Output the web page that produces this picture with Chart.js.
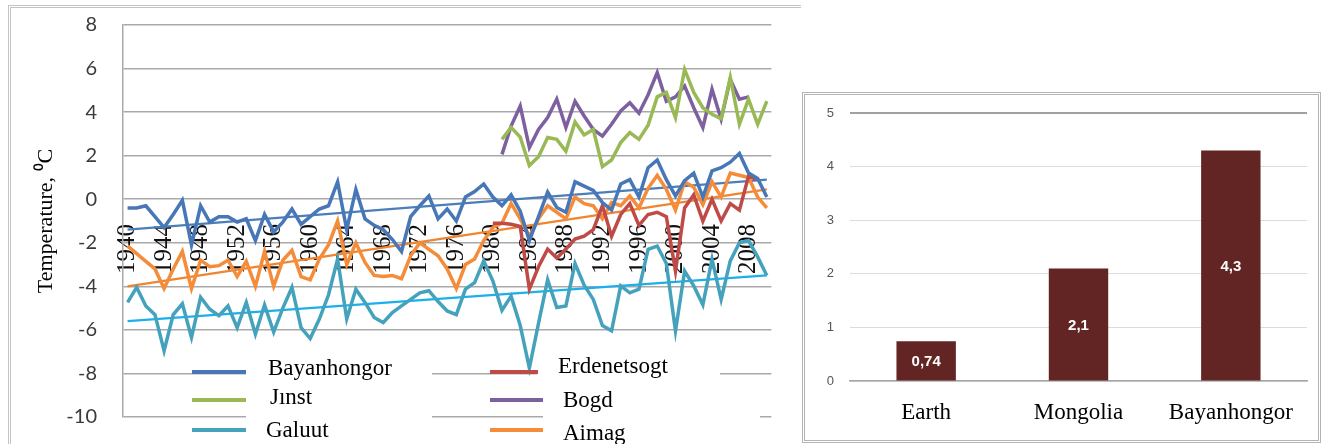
<!DOCTYPE html>
<html>
<head>
<meta charset="utf-8">
<script src="https://cdn.jsdelivr.net/npm/chart.js@4.4.1/dist/chart.umd.min.js"></script>
<style>
    html, body { margin: 0; padding: 0; background: #fff; }
    body { width: 1328px; height: 444px; position: relative; overflow: hidden; }
    #leftFrame { position: absolute; left: 8px; top: 5px; width: 793px; height: 460px; border: 3px double #c4c4c4; border-right: none; box-sizing: border-box; }
    #rightFrame { position: absolute; left: 802px; top: 92px; width: 519px; height: 351px; border: 3px double #b4b4b4; box-sizing: border-box; }
    #lineChart { position: absolute; left: 0; top: 0; }
    #barChart { position: absolute; left: 800px; top: 80px; }
    .cover { position: absolute; background: #fff; }
    .lg-line { position: absolute; height: 4px; }
    .lg-text { position: absolute; font-family: "Liberation Serif", "Times New Roman", serif; font-size: 23px; line-height: 23px; color: #000; white-space: nowrap; }
</style>
</head>
<body>
<div id="leftFrame"></div>
<div id="rightFrame"></div>
<canvas id="lineChart" width="800" height="444"></canvas>
<canvas id="barChart" width="528" height="364"></canvas>
<div id="legend"></div>
<script>
// years 1940..2010
var years = [];
for (var yr = 1940; yr <= 2010; yr++) years.push(String(yr));

var bayanhongor = [-0.4, -0.4, -0.3, -0.8, -1.3, -0.7, -0.05, -2.1, -0.3, -1.05,
    -0.8, -0.8, -1.05, -0.9, -1.9, -0.7, -1.5, -1.05, -0.45, -1.15,
    -0.8, -0.45, -0.3, 0.8, -1.4, 0.45, -0.9, -1.2, -1.4, -1.85,
    -2.4, -0.8, -0.3, 0.15, -0.9, -0.45, -1.0, 0.1, 0.35, 0.7,
    0.1, -0.3, 0.2, -0.55, -1.9, -0.8, 0.33, -0.38, -0.6, 0.8,
    0.6, 0.4, -0.15, -0.5, 0.7, 0.9, 0.1, 1.45, 1.8, 0.9,
    0.15, 0.85, 1.2, 0.1, 1.3, 1.45, 1.7, 2.1, 1.2, 0.95,
    0.1];
var erdenetsogt = [null, null, null, null, null, null, null, null, null, null,
    null, null, null, null, null, null, null, null, null, null,
    null, null, null, null, null, null, null, null, null, null,
    null, null, null, null, null, null, null, null, null, null,
    -1.1, -1.1, -1.15, -1.25, -4.13, -3.1, -2.29, -2.7, -2.29, -1.83,
    -1.7, -1.4, -0.3, -1.7, -0.7, -0.2, -1.2, -0.7, -0.6, -0.8,
    -3.3, -0.4, 0.2, -1.0, 0.0, -1.0, -0.2, -0.5, 1.05, 0.9,
    null];
var jinst = [null, null, null, null, null, null, null, null, null, null,
    null, null, null, null, null, null, null, null, null, null,
    null, null, null, null, null, null, null, null, null, null,
    null, null, null, null, null, null, null, null, null, null,
    null, 2.75, 3.3, 2.85, 1.55, 1.95, 2.83, 2.75, 2.2, 3.55,
    2.95, 3.2, 1.5, 1.8, 2.6, 3.06, 2.75, 3.4, 4.7, 4.9,
    3.75, 5.96, 4.9, 4.2, 3.9, 3.7, 5.6, 3.44, 4.6, 3.44,
    4.5];
var bogd = [null, null, null, null, null, null, null, null, null, null,
    null, null, null, null, null, null, null, null, null, null,
    null, null, null, null, null, null, null, null, null, null,
    null, null, null, null, null, null, null, null, null, null,
    null, 2.06, 3.36, 4.28, 2.37, 3.2, 3.75, 4.6, 3.29, 4.5,
    3.82, 3.2, 2.9, 3.44, 4.05, 4.43, 3.95, 4.8, 5.81, 4.5,
    4.7, 5.2, 4.2, 3.29, 5.05, 3.67, 5.5, 4.59, 4.7, null,
    null];
var galuut = [-4.74, -4.05, -4.9, -5.3, -6.96, -5.3, -4.8, -6.35, -4.5, -5.05,
    -5.35, -4.9, -5.9, -4.74, -6.2, -4.85, -6.1, -5.0, -4.05, -5.9,
    -6.4, -5.5, -4.4, -2.75, -5.5, -4.13, -4.74, -5.43, -5.66, -5.2,
    -4.9, -4.6, -4.3, -4.2, -4.7, -5.13, -5.3, -4.13, -3.83, -2.83,
    -3.75, -5.1, -4.45, -5.8, -7.75, -5.7, -3.7, -4.97, -4.9, -2.95,
    -3.95, -4.6, -5.8, -6.04, -3.98, -4.3, -4.13, -2.3, -2.15, -2.95,
    -6.05, -3.3, -3.98, -4.85, -2.75, -4.6, -2.83, -2.0, -1.9, -2.65,
    -3.5];
var aimag = [-2.14, -2.5, -2.85, -3.2, -4.1, -3.2, -2.4, -4.1, -2.8, -3.1,
    -3.05, -2.8, -3.55, -2.85, -4.0, -2.4, -4.0, -2.8, -2.35, -3.55,
    -3.7, -2.75, -2.1, -1.0, -3.0, -2.0, -2.9, -3.5, -3.55, -3.5,
    -3.65, -2.6, -2.0, -2.3, -2.6, -3.2, -4.1, -3.0, -2.75, -1.9,
    -1.3, -1.1, -0.2, -0.9, -1.7, -0.9, -0.3, -0.6, -0.9, 0.1,
    -0.2, -0.3, -0.9, -0.15, -0.3, 0.15, -0.4, 0.5, 1.1, 0.45,
    -0.5, 0.8, 0.55, -0.25, 0.8, 0.1, 1.2, 1.1, 1.0, 0.1,
    -0.4];

// linear trends, start and end year
var trendYears = ['1940', '2010'];
var bayanTrend = [-1.4, 0.9];
var aimagTrend = [-4.0, 0.45];
var galuutTrend = [-5.6, -3.5];

var yTicks = [-10, -8, -6, -4, -2, 0, 2, 4, 6, 8];

// right chart
var regions = ['Earth', 'Mongolia', 'Bayanhongor'];
var warming = [0.74, 2.1, 4.3];
var warmingLabels = ['0,74', '2,1', '4,3'];

var series = [
    { name: 'Bayanhongor', data: bayanhongor, color: '#4877b8' },
    { name: 'Erdenetsogt', data: erdenetsogt, color: '#be4b48' },
    { name: 'J\u0131nst', data: jinst, color: '#98b954' },
    { name: 'Bogd', data: bogd, color: '#7d60a0' },
    { name: 'Galuut', data: galuut, color: '#45a2bc' },
    { name: 'Aimag', data: aimag, color: '#f58c3a' }
];
var trends = [
    { data: bayanTrend, color: '#4a7ebb' },
    { data: aimagTrend, color: '#f08530' },
    { data: galuutTrend, color: '#1ab0ec' }
];

function trendPoints(vals) {
    return trendYears.map(function (t, i) { return { x: t, y: vals[i] }; });
}

function loadLineChart() {
    var ctx = document.getElementById('lineChart').getContext('2d');
    var datasets = series.map(function (s) {
        return { label: s.name, data: s.data, borderColor: s.color, backgroundColor: s.color, borderWidth: 3.5, pointRadius: 0, tension: 0, fill: false };
    });
    trends.forEach(function (t) {
        datasets.push({ label: '', data: trendPoints(t.data), borderColor: t.color, borderWidth: 2.2, pointRadius: 0, fill: false });
    });
    new Chart(ctx, {
        type: 'line',
        data: { labels: years, datasets: datasets },
        options: {
            responsive: false,
            animation: false,
            layout: { padding: { left: 0, top: 25, right: 28, bottom: 27 } },
            plugins: { legend: { display: false }, tooltip: { enabled: false } },
            scales: {
                x: {
                    type: 'category',
                    offset: true,
                    position: { y: -1 },
                    grid: { display: false, drawTicks: false },
                    border: { display: false },
                    ticks: {
                        autoSkip: false, minRotation: 90, maxRotation: 90, padding: 3,
                        color: '#111',
                        font: { family: 'Liberation Serif', size: 25 },
                        callback: function (v, i) {
                            return (Number(years[i]) - 1940) % 4 === 0 ? years[i] : '';
                        }
                    }
                },
                y: {
                    min: -10, max: 8,
                    afterBuildTicks: function (s) { s.ticks = yTicks.map(function (v) { return { value: v }; }); },
                    afterFit: function (s) { s.width = 123; },
                    grid: { color: '#a9a9a9', lineWidth: 1.5, drawTicks: true, tickLength: 26, tickColor: 'rgba(0,0,0,0)' },
                    border: { color: '#a9a9a9', width: 1.5 },
                    ticks: { padding: 0, color: '#3a3a3a', font: { family: 'Lato', size: 20 } },
                    title: {
                        display: true, text: 'Temperature, \u2070C', color: '#000',
                        font: { family: 'Liberation Serif', size: 22 },
                        padding: { top: 33, bottom: 0 }
                    }
                }
            }
        }
    });
}

function buildLegend() {
    var box = document.getElementById('legend');
    var covers = [[246, 356, 186, 88], [537, 356, 183, 39], [543, 395, 217, 49]];
    covers.forEach(function (c) {
        var d = document.createElement('div');
        d.className = 'cover';
        d.style.left = c[0] + 'px'; d.style.top = c[1] + 'px';
        d.style.width = c[2] + 'px'; d.style.height = c[3] + 'px';
        box.appendChild(d);
    });
    // order as in the picture: two columns, three rows
    var slots = [
        { line: [192, 246, 372], text: [268, 356] },
        { line: [490, 538, 372], text: [558, 354] },
        { line: [192, 246, 400], text: [270, 385] },
        { line: [490, 543, 400], text: [563, 388] },
        { line: [192, 246, 430], text: [266, 418] },
        { line: [490, 543, 430], text: [563, 421] }
    ];
    series.forEach(function (s, i) {
        var sl = slots[i];
        var ln = document.createElement('div');
        ln.className = 'lg-line';
        ln.style.left = sl.line[0] + 'px';
        ln.style.width = (sl.line[1] - sl.line[0]) + 'px';
        ln.style.top = (sl.line[2] - 2) + 'px';
        ln.style.background = s.color;
        box.appendChild(ln);
        var tx = document.createElement('div');
        tx.className = 'lg-text';
        tx.style.left = sl.text[0] + 'px';
        tx.style.top = sl.text[1] + 'px';
        tx.textContent = s.name;
        box.appendChild(tx);
    });
}

var barLabelPlugin = {
    id: 'barLabels',
    afterDatasetsDraw: function (chart) {
        var c = chart.ctx;
        var meta = chart.getDatasetMeta(0);
        c.save();
        c.fillStyle = '#fff';
        c.font = 'bold 15px "Liberation Sans"';
        c.textAlign = 'center';
        c.textBaseline = 'middle';
        meta.data.forEach(function (el, i) {
            c.fillText(warmingLabels[i], el.x, (el.y + el.base) / 2 + 1);
        });
        c.restore();
    }
};

function loadBarChart() {
    var ctx = document.getElementById('barChart').getContext('2d');
    new Chart(ctx, {
        type: 'bar',
        data: {
            labels: regions,
            datasets: [{ data: warming, backgroundColor: '#632523', barPercentage: 0.39, categoryPercentage: 1 }]
        },
        options: {
            responsive: false,
            animation: false,
            layout: { padding: { left: 0, top: 33, right: 21, bottom: 0 } },
            plugins: { legend: { display: false }, tooltip: { enabled: false } },
            scales: {
                x: {
                    grid: { display: false, drawTicks: false },
                    border: { color: '#a6a6a6', width: 1.5 },
                    afterFit: function (s) { s.height = 63; },
                    ticks: { padding: 18, color: '#000', font: { family: 'Liberation Serif', size: 23 } }
                },
                y: {
                    min: 0, max: 5,
                    afterFit: function (s) { s.width = 50; },
                    border: { display: false },
                    grid: {
                        drawTicks: false,
                        color: function (c) { return c.tick.value === 5 ? '#a0a0a0' : '#dcdcdc'; },
                        lineWidth: function (c) { return c.tick.value === 5 ? 2 : 1; }
                    },
                    ticks: { stepSize: 1, padding: 16, color: '#555', font: { family: 'Liberation Sans', size: 13 } }
                }
            }
        },
        plugins: [barLabelPlugin]
    });
}

loadLineChart();
buildLegend();
loadBarChart();
</script>
</body>
</html>
